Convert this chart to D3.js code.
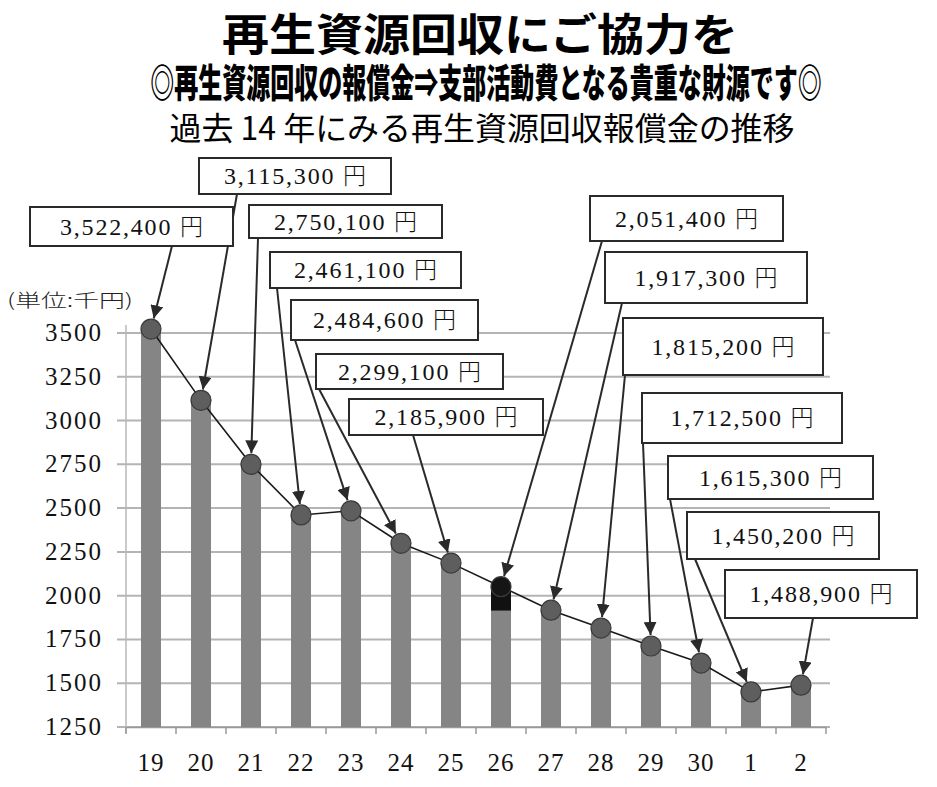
<!DOCTYPE html>
<html>
<head>
<meta charset="utf-8">
<script src="https://cdn.jsdelivr.net/npm/d3@7"></script>
<style>
  html, body { margin: 0; padding: 0; background: #fff; }
  svg { display: block; }
</style>
</head>
<body>
<svg id="chart" width="937" height="787"></svg>
<script>
// fiscal years (Heisei 19-30, Reiwa 1-2)
const categories = ['19', '20', '21', '22', '23', '24', '25', '26', '27', '28', '29', '30', '1', '2'];
// reward in thousand yen
const values = [3522.4, 3115.3, 2750.1, 2461.1, 2484.6, 2299.1, 2185.9, 2051.4, 1917.3, 1815.2, 1712.5, 1615.3, 1450.2, 1488.9];
const calloutLabels = ['3,522,400', '3,115,300', '2,750,100', '2,461,100', '2,484,600', '2,299,100', '2,185,900',
  '2,051,400', '1,917,300', '1,815,200', '1,712,500', '1,615,300', '1,450,200', '1,488,900'];
const yTicks = [1250, 1500, 1750, 2000, 2250, 2500, 2750, 3000, 3250, 3500];
// dark patch seen on the 26 bar
const darkPatch = [{ cat: '26', top: 2051.4, bottom: 1915 }];

// callout box layout (x, y, w, h, ax = where the arrow leaves the bottom edge)
const boxLayout = [
  [30, 207, 203, 39, 142], [199, 158, 192, 36, 38], [249, 205, 193, 33, 9], [270, 252, 191, 36, 7],
  [291, 300, 187, 40, 4], [316, 354, 187, 35, 3], [349, 399, 194, 36, 64], [590, 196, 193, 45, 12],
  [605, 252, 202, 51, 17], [623, 318, 200, 57, 2], [642, 393, 200, 50, 1], [668, 456, 205, 43, 2],
  [687, 512, 192, 47, 8], [725, 570, 192, 48, 88]
];

const PLOT = { left: 126, right: 826, top: 333, bottom: 727 };
const SERIF = "'Liberation Serif', 'DejaVu Serif', serif";
const GOTHIC = "'Noto Sans CJK JP', 'Noto Sans', sans-serif";

const svg = d3.select('#chart');

const x = d3.scaleBand().domain(categories).range([PLOT.left, PLOT.right]).padding(0);
const y = d3.scaleLinear().domain([1250, 3500]).range([PLOT.bottom, PLOT.top]);
const cx = (c) => x(c) + x.bandwidth() / 2;
const barW = x.bandwidth() * 0.4;
const R = 10;

// titles
svg.append('text')
  .attr('x', 480).attr('y', 51)
  .attr('text-anchor', 'middle')
  .attr('font-family', GOTHIC).attr('font-weight', 700).attr('font-size', 44)
  .attr('textLength', 516).attr('lengthAdjust', 'spacingAndGlyphs')
  .text('再生資源回収にご協力を');

// condensed heavy subtitle
svg.append('text')
  .attr('transform', 'translate(486,97) scale(0.616,1)')
  .attr('text-anchor', 'middle')
  .attr('font-family', GOTHIC).attr('font-weight', 900).attr('font-size', 39)
  .text('◎再生資源回収の報償金⇒支部活動費となる貴重な財源です◎');

svg.append('text')
  .attr('x', 482).attr('y', 140)
  .attr('text-anchor', 'middle')
  .attr('font-family', GOTHIC).attr('font-weight', 400).attr('font-size', 32)
  .attr('textLength', 625).attr('lengthAdjust', 'spacingAndGlyphs')
  .text('過去 14 年にみる再生資源回収報償金の推移');

svg.append('text')
  .attr('x', 7).attr('y', 307)
  .attr('font-family', GOTHIC).attr('font-weight', 300).attr('font-size', 18)
  .attr('fill', '#222')
  .attr('textLength', 126).attr('lengthAdjust', 'spacingAndGlyphs')
  .text('(単位:千円)');

// gridlines
svg.append('g')
  .selectAll('line')
  .data(yTicks)
  .enter()
  .append('line')
  .attr('x1', PLOT.left - 9).attr('x2', PLOT.right + 4)
  .attr('y1', (d) => y(d)).attr('y2', (d) => y(d))
  .attr('stroke', '#b4b4b4').attr('stroke-width', 2);

// y axis line
svg.append('line')
  .attr('x1', PLOT.left).attr('x2', PLOT.left)
  .attr('y1', y(3500) - 8).attr('y2', PLOT.bottom + 6)
  .attr('stroke', '#b8b8b8').attr('stroke-width', 1.5);

// y tick labels
svg.append('g')
  .selectAll('text')
  .data(yTicks)
  .enter()
  .append('text')
  .attr('x', 103).attr('y', (d) => y(d) + 8)
  .attr('text-anchor', 'end')
  .attr('font-family', SERIF).attr('font-size', 25).attr('letter-spacing', 2).attr('fill', '#111')
  .text((d) => d);

// x axis
const xAxis = svg.append('g')
  .attr('transform', `translate(0,${PLOT.bottom})`)
  .call(d3.axisBottom(x).tickSize(0).tickPadding(26));
xAxis.select('.domain').attr('stroke', '#999').attr('stroke-width', 1.5);
xAxis.selectAll('text')
  .attr('font-family', SERIF).attr('font-size', 25).attr('letter-spacing', 1).attr('fill', '#111');
xAxis.selectAll('.bnd')
  .data(d3.range(categories.length + 1))
  .enter()
  .append('line')
  .attr('class', 'bnd')
  .attr('x1', (i) => PLOT.left + i * x.step()).attr('x2', (i) => PLOT.left + i * x.step())
  .attr('y1', 0).attr('y2', 7)
  .attr('stroke', '#999').attr('stroke-width', 1.5);

// bars
svg.append('g')
  .selectAll('rect')
  .data(values)
  .enter()
  .append('rect')
  .attr('x', (d, i) => cx(categories[i]) - barW / 2)
  .attr('y', (d) => y(d))
  .attr('width', barW)
  .attr('height', (d) => PLOT.bottom - y(d))
  .attr('fill', '#858585');

svg.append('g')
  .selectAll('rect')
  .data(darkPatch)
  .enter()
  .append('rect')
  .attr('x', (d) => cx(d.cat) - barW / 2)
  .attr('y', (d) => y(d.top))
  .attr('width', barW)
  .attr('height', (d) => y(d.bottom) - y(d.top))
  .attr('fill', '#111');

// line
const line = d3.line().x((d, i) => cx(categories[i])).y((d) => y(d));
svg.append('path')
  .datum(values)
  .attr('d', line)
  .attr('fill', 'none')
  .attr('stroke', '#1a1a1a')
  .attr('stroke-width', 1.6);

// markers
const darkCats = darkPatch.map((d) => d.cat);
svg.append('g')
  .selectAll('circle')
  .data(values)
  .enter()
  .append('circle')
  .attr('cx', (d, i) => cx(categories[i]))
  .attr('cy', (d) => y(d))
  .attr('r', R)
  .attr('fill', (d, i) => (darkCats.includes(categories[i]) ? '#151515' : '#5e5e5e'))
  .attr('stroke', '#3a3a3a')
  .attr('stroke-width', 1.2);

// callouts
svg.append('defs')
  .append('marker')
  .attr('id', 'arrow')
  .attr('viewBox', '0 0 12 12')
  .attr('refX', 12).attr('refY', 6)
  .attr('markerWidth', 13).attr('markerHeight', 13)
  .attr('markerUnits', 'userSpaceOnUse')
  .attr('orient', 'auto')
  .append('path')
  .attr('d', 'M0,0 L12,6 L0,12 Z')
  .attr('fill', '#2a2a2a');

const callouts = values.map((v, i) => {
  const [bx, by, bw, bh, ax] = boxLayout[i];
  const mx = cx(categories[i]);
  const my = y(v);
  const sx = bx + ax;
  const sy = by + bh;
  const len = Math.hypot(mx - sx, my - sy);
  return {
    label: calloutLabels[i], bx, by, bw, bh, sx, sy,
    ex: mx - ((mx - sx) / len) * (R + 1),
    ey: my - ((my - sy) / len) * (R + 1)
  };
});

svg.append('g')
  .selectAll('line')
  .data(callouts)
  .enter()
  .append('line')
  .attr('x1', (d) => d.sx).attr('y1', (d) => d.sy)
  .attr('x2', (d) => d.ex).attr('y2', (d) => d.ey)
  .attr('stroke', '#2a2a2a')
  .attr('stroke-width', 2)
  .attr('marker-end', 'url(#arrow)');

const boxes = svg.append('g')
  .selectAll('g')
  .data(callouts)
  .enter()
  .append('g');

boxes.append('rect')
  .attr('x', (d) => d.bx).attr('y', (d) => d.by)
  .attr('width', (d) => d.bw).attr('height', (d) => d.bh)
  .attr('fill', '#fff')
  .attr('stroke', '#2a2a2a')
  .attr('stroke-width', 2);

const labels = boxes.append('text')
  .attr('x', (d) => d.bx + d.bw / 2)
  .attr('y', (d) => d.by + d.bh / 2 + 8)
  .attr('text-anchor', 'middle')
  .attr('font-family', SERIF).attr('font-size', 24).attr('fill', '#111');
labels.append('tspan').attr('letter-spacing', 1.8).text((d) => d.label + ' ');
labels.append('tspan')
  .attr('font-family', GOTHIC).attr('font-weight', 300).attr('font-size', 23)
  .text('円');
</script>
</body>
</html>
